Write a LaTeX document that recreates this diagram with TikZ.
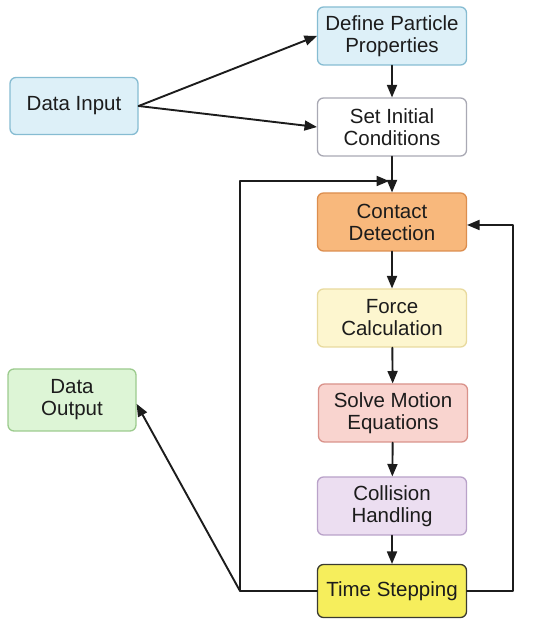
\documentclass[tikz,border=0pt]{standalone}
\usepackage{fontspec}
\setmainfont{Liberation Sans}
\usepackage{tikz}
\usetikzlibrary{arrows}
\definecolor{infill}{HTML}{DDF0F8}
\definecolor{inedge}{HTML}{86BCD2}
\definecolor{setedge}{HTML}{A9A9B4}
\definecolor{cdfill}{HTML}{F8B87C}
\definecolor{cdedge}{HTML}{DC8E4E}
\definecolor{fcfill}{HTML}{FDF6CF}
\definecolor{fcedge}{HTML}{E8DA9E}
\definecolor{smfill}{HTML}{F9D4CF}
\definecolor{smedge}{HTML}{D9928A}
\definecolor{chfill}{HTML}{ECDEF1}
\definecolor{chedge}{HTML}{B9A2C9}
\definecolor{tsfill}{HTML}{F6EE5C}
\definecolor{tsedge}{HTML}{3A3A30}
\definecolor{outfill}{HTML}{DDF5D6}
\definecolor{outedge}{HTML}{9CCB8E}
\definecolor{txt}{HTML}{1C1C1C}

\begin{document}
\begin{tikzpicture}[line cap=round,line join=round,>=triangle 45,x=1pt,y=1pt,
    stage/.style={draw,rounded corners=6pt,line width=1.3pt,align=center,
        minimum width=149pt,minimum height=58pt,inner sep=2pt,text=txt,
        font=\fontsize{20.5}{22}\selectfont},
    iobox/.style={stage,minimum width=128pt,minimum height=57pt},
    flow/.style={->,line width=1.9pt,txt}]
        \useasboundingbox (0,0) rectangle (550,629);
        \node [iobox,fill=infill,draw=inedge] (datain) at (74,523) {Data Input};
        \node [stage,fill=infill,draw=inedge] (defprop) at (392,593) {Define Particle\\Properties};
        \node [stage,fill=white,draw=setedge] (setinit) at (392,502) {Set Initial\\Conditions};
        \node [stage,fill=cdfill,draw=cdedge] (contact) at (392,407) {Contact\\Detection};
        \node [stage,fill=fcfill,draw=fcedge] (force) at (392,311) {Force\\Calculation};
        \node [stage,fill=smfill,draw=smedge] (solve) at (393,216) {Solve Motion\\Equations};
        \node [stage,fill=chfill,draw=chedge] (collide) at (392,123) {Collision\\Handling};
        \node [stage,fill=tsfill,draw=tsedge,minimum height=53pt] (timestep) at (392,38) {Time Stepping};
        \node [iobox,fill=outfill,draw=outedge,minimum height=62pt] (dataout) at (72,229) {Data\\Output};
        \coordinate (lcorner) at (240,38);
        \coordinate (ltop) at (240,448);
        \coordinate (lend) at (389,448);
        \coordinate (rcorner) at (513,38);
        \coordinate (rtop) at (513,404);
        \draw [flow] (datain.east) -- (defprop.west);
        \draw [flow] (datain.east) -- (setinit.west);
        \draw [flow] (defprop) -- (setinit);
        \draw [flow] (setinit) -- (contact);
        \draw [flow] (contact) -- (force);
        \draw [flow] (force) -- (solve);
        \draw [flow] (solve) -- (collide);
        \draw [flow] (collide) -- (timestep);
        \draw [flow] (timestep.west) -- (lcorner) -- (ltop) -- (lend);
        \draw [flow] (timestep.east) -- (rcorner) -- (rtop) -- (contact.east |- rtop);
        \draw [flow] (lcorner) -- ([yshift=-4pt]dataout.east);
    \end{tikzpicture}
\end{document}
